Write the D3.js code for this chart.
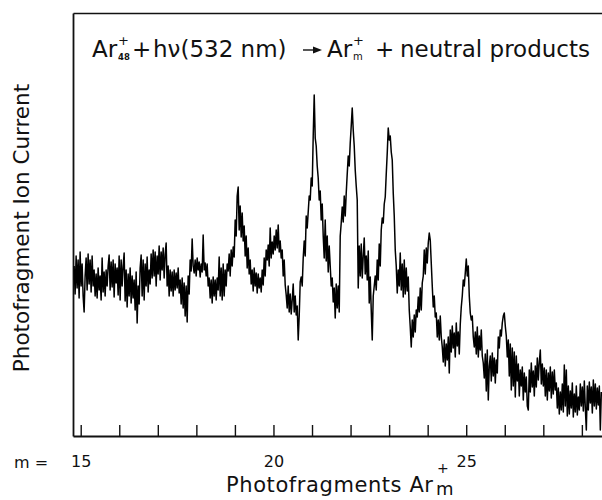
<!DOCTYPE html>
<html>
<head>
<meta charset="utf-8">
<script src="https://cdn.jsdelivr.net/npm/d3@7/dist/d3.min.js"></script>
<style>
  body { margin: 0; background: #fff; }
  svg { display: block; }
  text { font-family: "DejaVu Sans", sans-serif; fill: #111; }
</style>
</head>
<body>
<svg id="chart" width="602" height="500"></svg>
<script>
// Fragment mass axis (m), one tick per argon cluster size
const massTicks = [15, 16, 17, 18, 19, 20, 21, 22, 23, 24, 25, 26, 27, 28];
const labeledMasses = [15, 20, 25];

// Photofragment ion current, arbitrary units, one value per mass channel
const channelStart = 14.829;
const channelStep = 0.02595;
const ionCurrent = [
  170, 142, 180, 148, 176, 138, 184, 150, 172, 140,
  124, 160, 178, 146, 182, 152, 176, 144, 180, 150,
  166, 140, 162, 138, 168, 146, 160, 136, 178, 144,
  164, 140, 166, 150, 170, 181, 146, 174, 149, 176,
  139, 172, 153, 168, 141, 180, 136, 176, 150, 170,
  183, 135, 166, 129, 162, 140, 168, 133, 160, 138,
  156, 126, 164, 113, 150, 132, 168, 181, 140, 176,
  136, 172, 150, 179, 144, 166, 152, 182, 158, 186,
  160, 184, 150, 180, 162, 190, 156, 184, 166, 188,
  158, 182, 193, 150, 170, 140, 166, 145, 164, 140,
  166, 146, 163, 148, 168, 143, 156, 132, 158, 128,
  153, 120, 150, 114, 160, 142, 176, 165, 197, 170,
  163, 176, 160, 178, 166, 174, 159, 172, 164, 201,
  166, 173, 160, 172, 150, 158, 138, 156, 133, 159,
  140, 156, 136, 158, 146, 179, 140, 168, 136, 172,
  140, 166, 150, 172, 165, 182, 160, 186, 170, 189,
  179, 216, 200, 240, 249, 206, 230, 199, 223, 195,
  210, 180, 200, 168, 188, 162, 176, 152, 166, 145,
  168, 150, 163, 143, 162, 148, 158, 144, 166, 151,
  178, 160, 186, 176, 191, 170, 208, 178, 194, 182,
  200, 186, 206, 188, 211, 184, 195, 178, 186, 160,
  176, 151, 141, 128, 150, 124, 142, 122, 136, 152,
  124, 140, 121, 130, 96, 120, 154, 159, 150, 178,
  195, 180, 220, 208, 224, 240, 236, 258, 250, 300,
  341, 298, 290, 270, 258, 236, 245, 216, 232, 200,
  178, 216, 175, 200, 164, 190, 170, 150, 158, 134,
  148, 118, 152, 128, 150, 124, 200, 213, 229, 214,
  240, 220, 243, 262, 280, 270, 293, 310, 328, 306,
  290, 266, 250, 236, 148, 190, 160, 192, 158, 180,
  198, 162, 180, 156, 185, 133, 159, 126, 96, 140,
  150, 160, 146, 176, 156, 192, 170, 206, 218, 213,
  232, 239, 262, 283, 308, 296, 300, 284, 276, 243,
  220, 186, 170, 143, 166, 150, 183, 146, 172, 139,
  176, 142, 168, 145, 159, 126, 109, 89, 116, 99,
  121, 104, 126, 119, 139, 124, 148, 126, 153, 160,
  186, 162, 188, 173, 193, 203, 196, 173, 150, 129,
  140, 119, 123, 99, 116, 96, 120, 99, 89, 74,
  96, 70, 92, 76, 99, 63, 106, 84, 110, 88,
  103, 79, 113, 90, 104, 82, 112, 129, 140, 156,
  150, 163, 177, 160, 170, 140, 123, 116, 120, 99,
  89, 104, 82, 109, 79, 100, 86, 106, 80, 73,
  58, 82, 45, 86, 36, 70, 80, 55, 83, 60,
  78, 53, 76, 63, 99, 88, 106, 100, 113, 120,
  123, 110, 100, 79, 96, 60, 92, 46, 88, 50,
  84, 39, 80, 55, 72, 40, 66, 50, 69, 36,
  63, 44, 59, 30, 26, 66, 44, 73, 49, 65,
  40, 70, 49, 78, 56, 74, 86, 52, 72, 50,
  68, 40, 66, 36, 63, 45, 69, 38, 64, 42,
  66, 46, 53, 28, 48, 22, 44, 26, 52, 24,
  71, 30, 66, 20, 50, 22, 45, 28, 53, 19,
  42, 24, 50, 21, 39, 26, 52, 30, 49, 25,
  55, 28, 6, 50, 26, 54, 33, 49, 23, 56,
  30, 52, 27, 48, 31, 50, 6, 44
];

const svg = d3.select("#chart");

const x = d3.scaleLinear().domain([14.8, 28.6]).range([73, 605]);
const y = d3.scaleLinear().domain([0, 423]).range([436, 13]);

// Frame: bottom axis with inward ticks, plain left and top edges
const xAxis = d3.axisBottom(x)
  .tickValues(massTicks)
  .tickSizeInner(-11)
  .tickSizeOuter(0)
  .tickPadding(20)
  .tickFormat(d => labeledMasses.includes(d) ? d : "");

const gx = svg.append("g")
  .attr("transform", `translate(0,${y(0)})`)
  .call(xAxis);
gx.select(".domain").attr("stroke", "#111").attr("stroke-width", 1.8);
gx.selectAll(".tick line").attr("stroke", "#111").attr("stroke-width", 1.4);
gx.selectAll(".tick text")
  .style("font-family", "'DejaVu Sans', sans-serif")
  .style("font-size", "16px")
  .attr("fill", "#111");

const gy = svg.append("g")
  .attr("transform", `translate(${x.range()[0]},0)`)
  .call(d3.axisLeft(y).tickValues([]).tickSizeOuter(0));
gy.select(".domain").attr("stroke", "#111").attr("stroke-width", 1.8);

const gt = svg.append("g")
  .attr("transform", `translate(0,${y.range()[1]})`)
  .call(d3.axisTop(x).tickValues([]).tickSizeOuter(0));
gt.select(".domain").attr("stroke", "#111").attr("stroke-width", 1.4);

// Spectrum trace
const line = d3.line()
  .x((d, i) => x(channelStart + i * channelStep))
  .y(d => y(d));

svg.append("path")
  .datum(ionCurrent)
  .attr("fill", "none")
  .attr("stroke", "#000")
  .attr("stroke-width", 1.5)
  .attr("stroke-linejoin", "round")
  .attr("d", line);

// "m =" prefix for the mass labels
svg.append("text")
  .attr("x", 14).attr("y", 468)
  .style("font-size", "16px")
  .text("m =");

// x-axis title: Photofragments Ar_m^+
svg.append("text").attr("x", 226).attr("y", 492).style("font-size", "21px")
  .attr("textLength", 207).attr("lengthAdjust", "spacing")
  .text("Photofragments Ar");
svg.append("text").attr("x", 437).attr("y", 473).style("font-size", "14px").text("+");
svg.append("text").attr("x", 436).attr("y", 495).style("font-size", "18px").text("m");

// y-axis title
svg.append("text")
  .attr("transform", "translate(29,228) rotate(-90)")
  .attr("text-anchor", "middle")
  .style("font-size", "21.5px")
  .text("Photofragment Ion Current");

// Reaction title
const tfs = 23;
svg.append("text").attr("x", 92).attr("y", 57).style("font-size", tfs + "px").text("Ar");
svg.append("text").attr("x", 118).attr("y", 45).style("font-size", "13px").text("+");
svg.append("text").attr("x", 118).attr("y", 60).style("font-size", "8.5px").style("font-weight", "bold").text("48");
svg.append("text").attr("x", 132).attr("y", 57).style("font-size", tfs + "px").text("+");
svg.append("text").attr("x", 153).attr("y", 57).style("font-size", tfs + "px").text("hν(532 nm)");
svg.append("line")
  .attr("x1", 303).attr("x2", 314).attr("y1", 50).attr("y2", 50)
  .attr("stroke", "#111").attr("stroke-width", 1.4);
svg.append("path")
  .attr("d", "M313,46.5 L322,50 L313,53.5 Z")
  .attr("fill", "#111");
svg.append("text").attr("x", 327).attr("y", 57).style("font-size", tfs + "px").text("Ar");
svg.append("text").attr("x", 353).attr("y", 45).style("font-size", "13px").text("+");
svg.append("text").attr("x", 353).attr("y", 60).style("font-size", "10px").text("m");
svg.append("text").attr("x", 375).attr("y", 57).style("font-size", tfs + "px").text("+");
svg.append("text").attr("x", 400).attr("y", 57).style("font-size", tfs + "px").text("neutral products");
</script>
</body>
</html>
